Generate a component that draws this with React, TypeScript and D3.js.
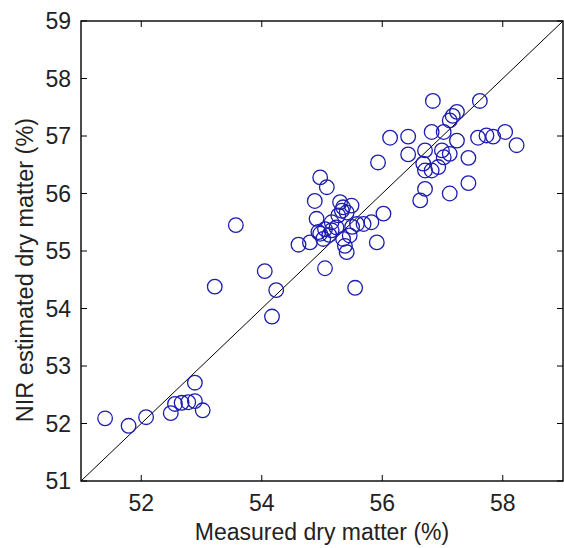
import React from "react";
import * as d3 from "d3";

const measured: number[] = [
  51.4, 51.79, 52.08, 52.49, 52.56, 52.67, 52.89, 53.02, 52.89, 52.78,
  53.22, 53.57, 54.05, 54.24, 54.17,
  54.97, 55.08, 54.88, 55.3, 55.35, 55.49, 55.41, 56.02, 54.91, 55.16,
  55.05, 55.16, 55.24, 54.94, 55.02, 54.97, 55.58, 55.69, 55.82, 55.46,
  55.35, 55.41, 55.38, 55.91, 54.8, 54.61, 55.05, 55.55, 55.27, 55.33,
  55.12, 55.5,
  56.84, 57.62, 57.24, 57.12, 56.13, 56.43, 56.82, 57.02, 57.24, 57.59,
  57.73, 57.84, 58.04, 58.23, 56.43, 56.71, 56.99, 57.02, 57.12, 57.43,
  56.68, 56.82, 56.93, 56.71, 55.93, 56.71, 56.63, 57.12, 57.43, 57.17,
];
const estimated: number[] = [
  52.09, 51.96, 52.11, 52.18, 52.34, 52.36, 52.39, 52.23, 52.71, 52.37,
  54.38, 55.45, 54.65, 54.32, 53.86,
  56.28, 56.11, 55.87, 55.85, 55.76, 55.79, 55.67, 55.65, 55.56, 55.5,
  55.38, 55.36, 55.41, 55.33, 55.21, 55.3, 55.47, 55.47, 55.5, 55.27,
  55.21, 54.98, 55.09, 55.15, 55.15, 55.11, 54.7, 54.36, 55.62, 55.7,
  55.28, 55.42,
  57.61, 57.61, 57.42, 57.27, 56.97, 56.99, 57.07, 57.07, 56.92, 56.97,
  57.01, 56.99, 57.07, 56.84, 56.68, 56.75, 56.75, 56.63, 56.69, 56.62,
  56.52, 56.4, 56.46, 56.4, 56.54, 56.08, 55.88, 56.0, 56.18, 57.35,
];
const xTicks: number[] = [52, 54, 56, 58];
const yTicks: number[] = [51, 52, 53, 54, 55, 56, 57, 58, 59];
const domain: [number, number] = [51, 59];
const xLabel = "Measured dry matter (%)";
const yLabel = "NIR estimated dry matter (%)";

const W = 564;
const H = 548;
const left = 81;
const right = 563;
const top = 21;
const bottom = 481;
const font = "'Liberation Sans', Arial, sans-serif";
const fs = 23;

export default function App() {
  const x = d3.scaleLinear().domain(domain).range([left, right]);
  const y = d3.scaleLinear().domain(domain).range([bottom, top]);
  const tick = 6;
  const pts = measured.map((m, i) => [m, estimated[i]] as [number, number]);
  const diag = d3.line<number>().x((v) => x(v)).y((v) => y(v))(domain);
  return (
    <svg
      width={W}
      height={H}
      style={{ position: "absolute", left: 0, top: 0, background: "#fff" }}
    >
      <rect x={0} y={0} width={W} height={H} fill="#fff" />
      <path d={diag ?? ""} stroke="#000" strokeWidth={1} fill="none" />
      {pts.map(([a, b], i) => (
        <circle
          key={i}
          cx={x(a)}
          cy={y(b)}
          r={7.3}
          fill="none"
          stroke="#1c1cb0"
          strokeWidth={1.3}
        />
      ))}
      <rect
        x={left}
        y={top}
        width={right - left}
        height={bottom - top}
        fill="none"
        stroke="#000"
        strokeWidth={1.4}
      />
      {xTicks.map((t) => (
        <g key={"x" + t}>
          <line x1={x(t)} x2={x(t)} y1={bottom} y2={bottom - tick} stroke="#000" />
          <line x1={x(t)} x2={x(t)} y1={top} y2={top + tick} stroke="#000" />
          <text
            x={x(t)}
            y={503}
            textAnchor="middle"
            dominantBaseline="central"
            fontFamily={font}
            fontSize={fs}
            fill="#222"
          >
            {t}
          </text>
        </g>
      ))}
      {yTicks.map((t) => (
        <g key={"y" + t}>
          <line x1={left} x2={left + tick} y1={y(t)} y2={y(t)} stroke="#000" />
          <line x1={right} x2={right - tick} y1={y(t)} y2={y(t)} stroke="#000" />
          <text
            x={left - 10}
            y={y(t)}
            textAnchor="end"
            dominantBaseline="central"
            fontFamily={font}
            fontSize={fs}
            fill="#222"
          >
            {t}
          </text>
        </g>
      ))}
      <text
        x={(left + right) / 2}
        y={540}
        textAnchor="middle"
        fontFamily={font}
        fontSize={23}
        fill="#222"
      >
        {xLabel}
      </text>
      <text
        transform={`translate(33, 270) rotate(-90)`}
        textAnchor="middle"
        fontFamily={font}
        fontSize={23.5}
        fill="#222"
      >
        {yLabel}
      </text>
    </svg>
  );
}
